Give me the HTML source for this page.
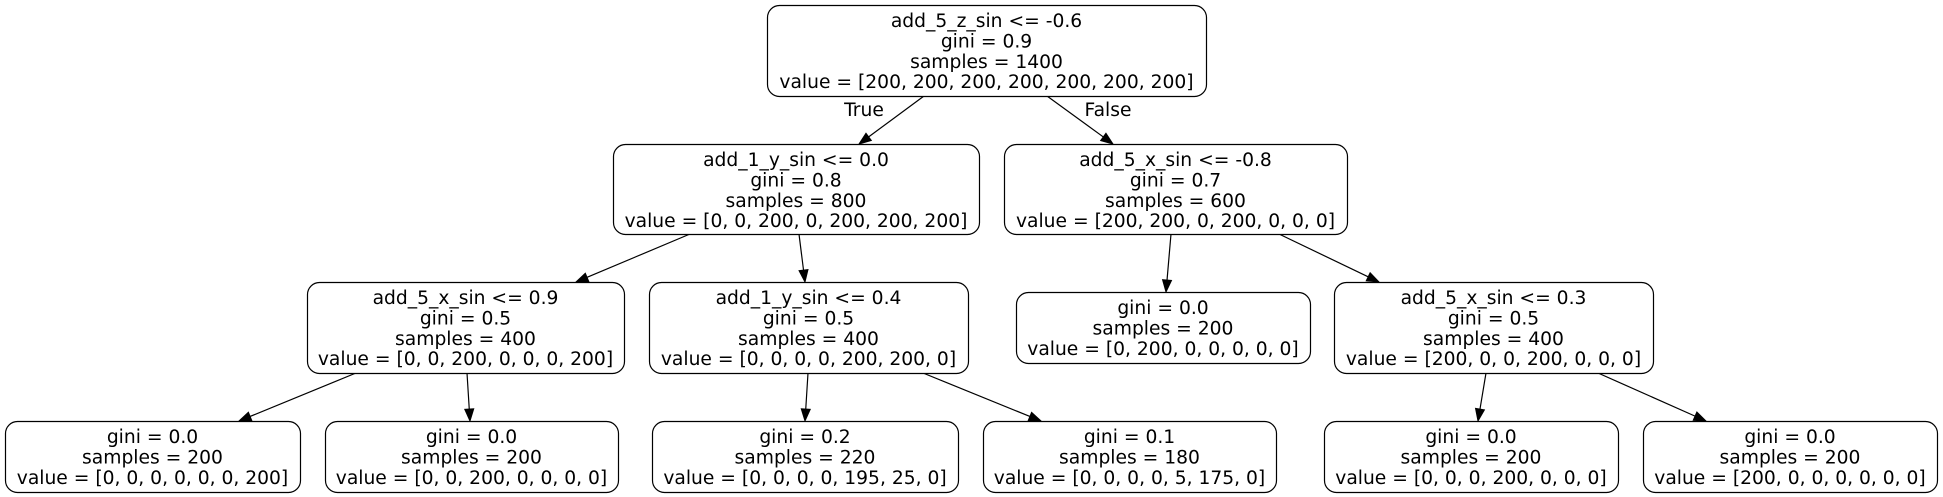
<!DOCTYPE html>
<html><head><meta charset="utf-8"><style>
html,body{margin:0;padding:0;background:#fff;}
svg{display:block;}
text{font-family:"DejaVu Sans","Liberation Sans",sans-serif;font-size:18.7px;fill:#000;text-anchor:middle;}
</style></head><body>
<svg id="tree" width="1943" height="497" viewBox="0 0 1943 497" xmlns="http://www.w3.org/2000/svg"></svg>
<script>
const nodeIds=["root","l1a","l1b","l2a","l2b","l2c","l2d","l3a","l3b","l3c","l3d","l3e","l3f"];
const nodeLabels=[
["add_5_z_sin <= -0.6","gini = 0.9","samples = 1400","value = [200, 200, 200, 200, 200, 200, 200]"],
["add_1_y_sin <= 0.0","gini = 0.8","samples = 800","value = [0, 0, 200, 0, 200, 200, 200]"],
["add_5_x_sin <= -0.8","gini = 0.7","samples = 600","value = [200, 200, 0, 200, 0, 0, 0]"],
["add_5_x_sin <= 0.9","gini = 0.5","samples = 400","value = [0, 0, 200, 0, 0, 0, 200]"],
["add_1_y_sin <= 0.4","gini = 0.5","samples = 400","value = [0, 0, 0, 0, 200, 200, 0]"],
["gini = 0.0","samples = 200","value = [0, 200, 0, 0, 0, 0, 0]"],
["add_5_x_sin <= 0.3","gini = 0.5","samples = 400","value = [200, 0, 0, 200, 0, 0, 0]"],
["gini = 0.0","samples = 200","value = [0, 0, 0, 0, 0, 0, 200]"],
["gini = 0.0","samples = 200","value = [0, 0, 200, 0, 0, 0, 0]"],
["gini = 0.2","samples = 220","value = [0, 0, 0, 0, 195, 25, 0]"],
["gini = 0.1","samples = 180","value = [0, 0, 0, 0, 5, 175, 0]"],
["gini = 0.0","samples = 200","value = [0, 0, 0, 200, 0, 0, 0]"],
["gini = 0.0","samples = 200","value = [200, 0, 0, 0, 0, 0, 0]"]
];
const boxes=[[767,5,1206,96],[613,144,979,234],[1004,144,1347,234],[307,282,624,373],[649,282,968,373],[1016,292,1310,363],[1334,282,1653,373],[5,421,300,492],[325,421,618,492],[652,421,958,492],[983,421,1276,492],[1324,421,1618,492],[1643,421,1937,492]];
const edges=[[0,1,924,96,859,144],[0,2,1047,96,1113,144],[1,3,690,234,576,282],[1,4,799,234,805,282],[2,5,1171,234,1166,292],[2,6,1279,234,1379,282],[3,7,356,373,239,421],[3,8,467,373,470,421],[4,9,808,373,805,421],[4,10,923,373,1041,421],[6,11,1486,373,1478,421],[6,12,1598,373,1706,421]];
const svg=document.getElementById('tree');
const NS="http://www.w3.org/2000/svg";
function mk(t,a){const e=document.createElementNS(NS,t);for(const k in a)e.setAttribute(k,a[k]);return e;}
edges.forEach((ed,i)=>{
  const [p,c,x1,y1,x2,y2]=ed;
  const dx=x2-x1,dy=y2-y1,L=Math.hypot(dx,dy),ux=dx/L,uy=dy/L;
  const al=12,aw=4.5;
  const bx=x2-ux*al,by=y2-uy*al;
  const g=mk('g',{});
  
  
  g.appendChild(mk('line',{x1:x1,y1:y1,x2:bx,y2:by,stroke:'#000','stroke-width':1.2}));
  g.appendChild(mk('polygon',{points:`${x2},${y2} ${bx-uy*aw},${by+ux*aw} ${bx+uy*aw},${by-ux*aw}`,fill:'#000',stroke:'#000'}));
  svg.appendChild(g);
});
const tl=mk('text',{x:864,y:116});tl.textContent='True';


svg.appendChild(tl);
const fl=mk('text',{x:1108,y:116});fl.textContent='False';


svg.appendChild(fl);
boxes.forEach((b,i)=>{
  const g=mk('g',{});
  
  
  g.appendChild(mk('rect',{x:b[0]+0.5,y:b[1]+0.5,width:b[2]-b[0],height:b[3]-b[1],rx:12,ry:12,fill:'#fff',stroke:'#000','stroke-width':1.2}));
  const lines=nodeLabels[i];
  lines.forEach((s,j)=>{
    const t=mk('text',{x:(b[0]+b[2])/2,y:b[1]+22+j*20.4});
    t.textContent=s;
    
    
    g.appendChild(t);
  });
  svg.appendChild(g);
});
</script>
</body></html>
